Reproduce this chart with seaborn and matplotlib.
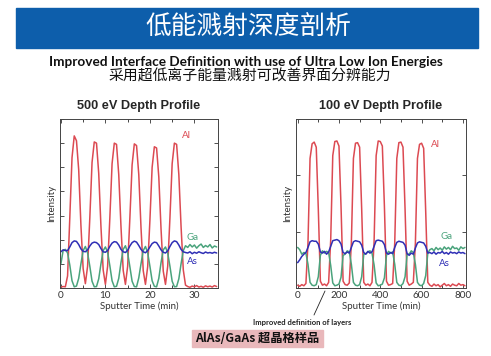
import numpy as np
import pandas as pd
import seaborn as sns
import matplotlib.pyplot as plt
from matplotlib.lines import Line2D
from matplotlib.patches import Rectangle

# Данные: 500 эВ, шаг 0.5 мин
t500 = np.arange(0, 35.5, 0.5)
al500 = [0.04, 0.06, 0.05, 0.5, 2.9, 5.4, 6.3, 6.1, 4.9, 2.6, 0.8, 0.18,
         0.9, 2.9, 5.2, 6.05, 6.0, 4.75, 2.55, 0.75, 0.15,
         0.9, 2.9, 5.15, 6.0, 5.95, 4.7, 2.55, 0.73, 0.15,
         0.9, 2.9, 5.1, 5.97, 5.9, 4.7, 2.5, 0.72, 0.15,
         0.88, 2.8, 5.0, 5.85, 5.8, 4.6, 2.45, 0.7, 0.15,
         0.9, 2.9, 5.15, 6.0, 5.95, 4.7, 2.55, 0.75, 0.12,
         0.06, 0.03, 0.08, 0.05, 0.1, 0.04, 0.07, 0.03, 0.09, 0.05, 0.08, 0.04, 0.1, 0.06]
ga500 = [1.0, 1.55, 1.6, 1.45, 0.95, 0.3, 0.05, 0.08, 0.4, 1.0, 1.55, 1.72,
         1.45, 0.9, 0.28, 0.05, 0.06, 0.38, 1.0, 1.55, 1.7,
         1.48, 0.92, 0.3, 0.05, 0.07, 0.4, 1.05, 1.6, 1.75,
         1.45, 0.88, 0.28, 0.06, 0.05, 0.42, 1.0, 1.55, 1.72,
         1.46, 0.9, 0.3, 0.07, 0.05, 0.4, 1.05, 1.58, 1.7,
         1.45, 0.9, 0.28, 0.05, 0.06, 0.38, 1.0, 1.55, 1.75,
         1.68, 1.8, 1.7, 1.78, 1.65, 1.75, 1.82, 1.68, 1.76, 1.7, 1.8, 1.66, 1.74, 1.7]
as500 = [1.5, 1.58, 1.55, 1.55, 1.7, 1.88, 1.95, 1.93, 1.8, 1.62, 1.52, 1.5,
         1.58, 1.74, 1.86, 1.9, 1.88, 1.8, 1.63, 1.5, 1.48,
         1.55, 1.72, 1.86, 1.92, 1.9, 1.78, 1.6, 1.5, 1.47,
         1.56, 1.74, 1.88, 1.94, 1.9, 1.76, 1.6, 1.5, 1.46,
         1.55, 1.7, 1.84, 1.9, 1.88, 1.74, 1.58, 1.48, 1.45,
         1.54, 1.72, 1.88, 1.95, 1.92, 1.78, 1.6, 1.5, 1.47,
         1.45, 1.5, 1.42, 1.48, 1.44, 1.5, 1.46, 1.43, 1.49, 1.45, 1.47, 1.44, 1.48, 1.45]

# Данные: 100 эВ, шаг 10 мин
t100 = np.arange(0, 820, 10)
al100 = [0.05, 0.03, 0.06, 0.04, 0.08, 0.8, 2.3, 2.56, 2.59, 2.5, 1.4, 0.12, 0.05, 0.07, 0.04,
         0.1, 0.85, 2.35, 2.6, 2.61, 2.52, 1.45, 0.12, 0.06, 0.05,
         0.09, 0.8, 2.3, 2.57, 2.58, 2.5, 1.4, 0.1, 0.05, 0.07, 0.04,
         0.1, 0.82, 2.35, 2.61, 2.6, 2.52, 1.45, 0.12, 0.05,
         0.06, 0.08, 0.8, 2.3, 2.58, 2.59, 2.5, 1.4, 0.12, 0.05, 0.07,
         0.1, 0.8, 2.3, 2.55, 2.57, 2.48, 1.35, 0.1, 0.05,
         0.03, 0.07, 0.04, 0.06, 0.02, 0.05, 0.08, 0.04, 0.06, 0.03, 0.07, 0.05, 0.04, 0.08, 0.05, 0.06, 0.04]
ga100 = [0.72, 0.68, 0.6, 0.63, 0.62, 0.42, 0.1, 0.05, 0.04, 0.06, 0.2, 0.58, 0.66, 0.62, 0.65,
         0.63, 0.4, 0.09, 0.04, 0.05, 0.07, 0.19, 0.58, 0.6, 0.66,
         0.64, 0.42, 0.1, 0.05, 0.04, 0.06, 0.2, 0.6, 0.61, 0.64, 0.66,
         0.62, 0.41, 0.09, 0.04, 0.05, 0.07, 0.18, 0.58, 0.65,
         0.62, 0.64, 0.42, 0.1, 0.05, 0.04, 0.08, 0.2, 0.6, 0.6, 0.66,
         0.63, 0.42, 0.1, 0.05, 0.04, 0.08, 0.22, 0.62, 0.68,
         0.7, 0.66, 0.72, 0.68, 0.71, 0.67, 0.73, 0.69, 0.72, 0.68, 0.74, 0.7, 0.71, 0.67, 0.73, 0.7, 0.72]
as100 = [0.45, 0.5, 0.56, 0.6, 0.63, 0.72, 0.82, 0.84, 0.83, 0.83, 0.78, 0.64, 0.62, 0.65, 0.6,
         0.64, 0.74, 0.84, 0.85, 0.86, 0.84, 0.78, 0.63, 0.61, 0.64,
         0.62, 0.72, 0.82, 0.84, 0.83, 0.82, 0.76, 0.63, 0.6, 0.65, 0.62,
         0.64, 0.74, 0.84, 0.85, 0.84, 0.83, 0.77, 0.62, 0.6,
         0.63, 0.61, 0.72, 0.81, 0.83, 0.82, 0.81, 0.76, 0.61, 0.58, 0.62,
         0.6, 0.71, 0.8, 0.82, 0.81, 0.8, 0.74, 0.62, 0.63,
         0.61, 0.64, 0.6, 0.63, 0.62, 0.65, 0.61, 0.63, 0.6, 0.64, 0.62, 0.63, 0.61, 0.64, 0.62, 0.63, 0.61]

elements = ['Al', 'Ga', 'As']
colors = {'Al': '#dc4a52', 'Ga': '#4aa37c', 'As': '#2f2fb5'}

df500 = pd.DataFrame({'t': np.tile(t500, 3), 'I': al500 + ga500 + as500,
                      'el': np.repeat(elements, len(t500))})
df100 = pd.DataFrame({'t': np.tile(t100, 3), 'I': al100 + ga100 + as100,
                      'el': np.repeat(elements, len(t100))})

sns.set_style('ticks')
plt.rcParams['font.family'] = ['Lato', 'DejaVu Sans']
cjk = ['Noto Sans CJK SC', 'DejaVu Sans']

fig = plt.figure(figsize=(4.91, 3.56), dpi=100)

# шапка
fig.add_artist(Rectangle((16 / 491, 1 - 48 / 356), 462 / 491, 40 / 356,
                         transform=fig.transFigure, color='#0d5eab', zorder=0))
fig.text(0.505, 1 - 28 / 356, '低能溅射深度剖析', color='white', fontsize=18.5,
         ha='center', va='center', family=cjk)
fig.text(0.5, 1 - 62 / 356, 'Improved Interface Definition with use of Ultra Low Ion Energies',
         fontsize=9.8, fontweight='bold', ha='center', va='center', color='#111111')
fig.text(0.508, 1 - 77 / 356, '采用超低离子能量溅射可改善界面分辨能力', fontsize=10.7,
         ha='center', va='center', color='#111111', family=cjk)

ax1 = fig.add_axes([60 / 491, 68 / 356, 158 / 491, 169 / 356])
ax2 = fig.add_axes([296 / 491, 68 / 356, 170 / 491, 169 / 356])

sns.lineplot(data=df500, x='t', y='I', hue='el', palette=colors, ax=ax1,
             legend=False, linewidth=1.1, estimator=None)
sns.lineplot(data=df100, x='t', y='I', hue='el', palette=colors, ax=ax2,
             legend=False, linewidth=1.1, estimator=None)

ax1.set_xlim(-0.2, 35.3)
ax1.set_ylim(0, 7)
ax1.set_xticks([0, 10, 20, 30])
ax1.set_xticks(np.arange(5, 35, 10), minor=True)
ax1.set_yticks(range(8))
ax2.set_xlim(-8, 815)
ax2.set_ylim(0, 3)
ax2.set_xticks([0, 200, 400, 600, 800])
ax2.set_xticks([100, 300, 500, 700], minor=True)
ax2.set_yticks(range(4))

for ax, title, lab in [(ax1, '500 eV Depth Profile', [(27.3, 6.3), (28.3, 2.1), (28.3, 1.1)]),
                       (ax2, '100 eV Depth Profile', [(645, 2.54), (692, 0.92), (685, 0.44)])]:
    ax.set_title(title, fontsize=9.2, fontweight='bold', family='Liberation Sans', pad=7)
    ax.set_xlabel('Sputter Time (min)', fontsize=7, color='#333333', labelpad=1)
    ax.set_ylabel('Intensity', fontsize=7, color='#333333', labelpad=3)
    ax.tick_params(axis='both', direction='in', top=True, right=True, length=3,
                   width=0.6, labelsize=7.2, colors='#333333', pad=2)
    ax.tick_params(axis='y', labelleft=False)
    ax.tick_params(which='minor', direction='in', top=True, length=2, width=0.6)
    for s in ax.spines.values():
        s.set_linewidth(0.7)
        s.set_color('#444444')
    for el, (x, y) in zip(elements, lab):
        ax.text(x, y, el, color=colors[el], fontsize=7, ha='left', va='center')

# подпись про границы слоёв
fig.add_artist(Line2D([325 / 491, 314 / 491], [1 - 291 / 356, 1 - 315 / 356],
                      transform=fig.transFigure, color='#222222', linewidth=0.6))
fig.text(253 / 491, 1 - 322 / 356, 'Improved definition of layers', fontsize=5.5,
         fontweight='bold', ha='left', va='center', color='#222222')

# подпись образца
fig.add_artist(Rectangle((192 / 491, 1 - 347 / 356), 131 / 491, 17 / 356,
                         transform=fig.transFigure, color='#e9b8bb', zorder=0))
fig.text(257 / 491, 1 - 338.5 / 356, 'AlAs/GaAs 超晶格样品', fontsize=8.8,
         ha='center', va='center', color='#111111', family=cjk, fontweight='bold')

fig.savefig('out.png', dpi=100)
